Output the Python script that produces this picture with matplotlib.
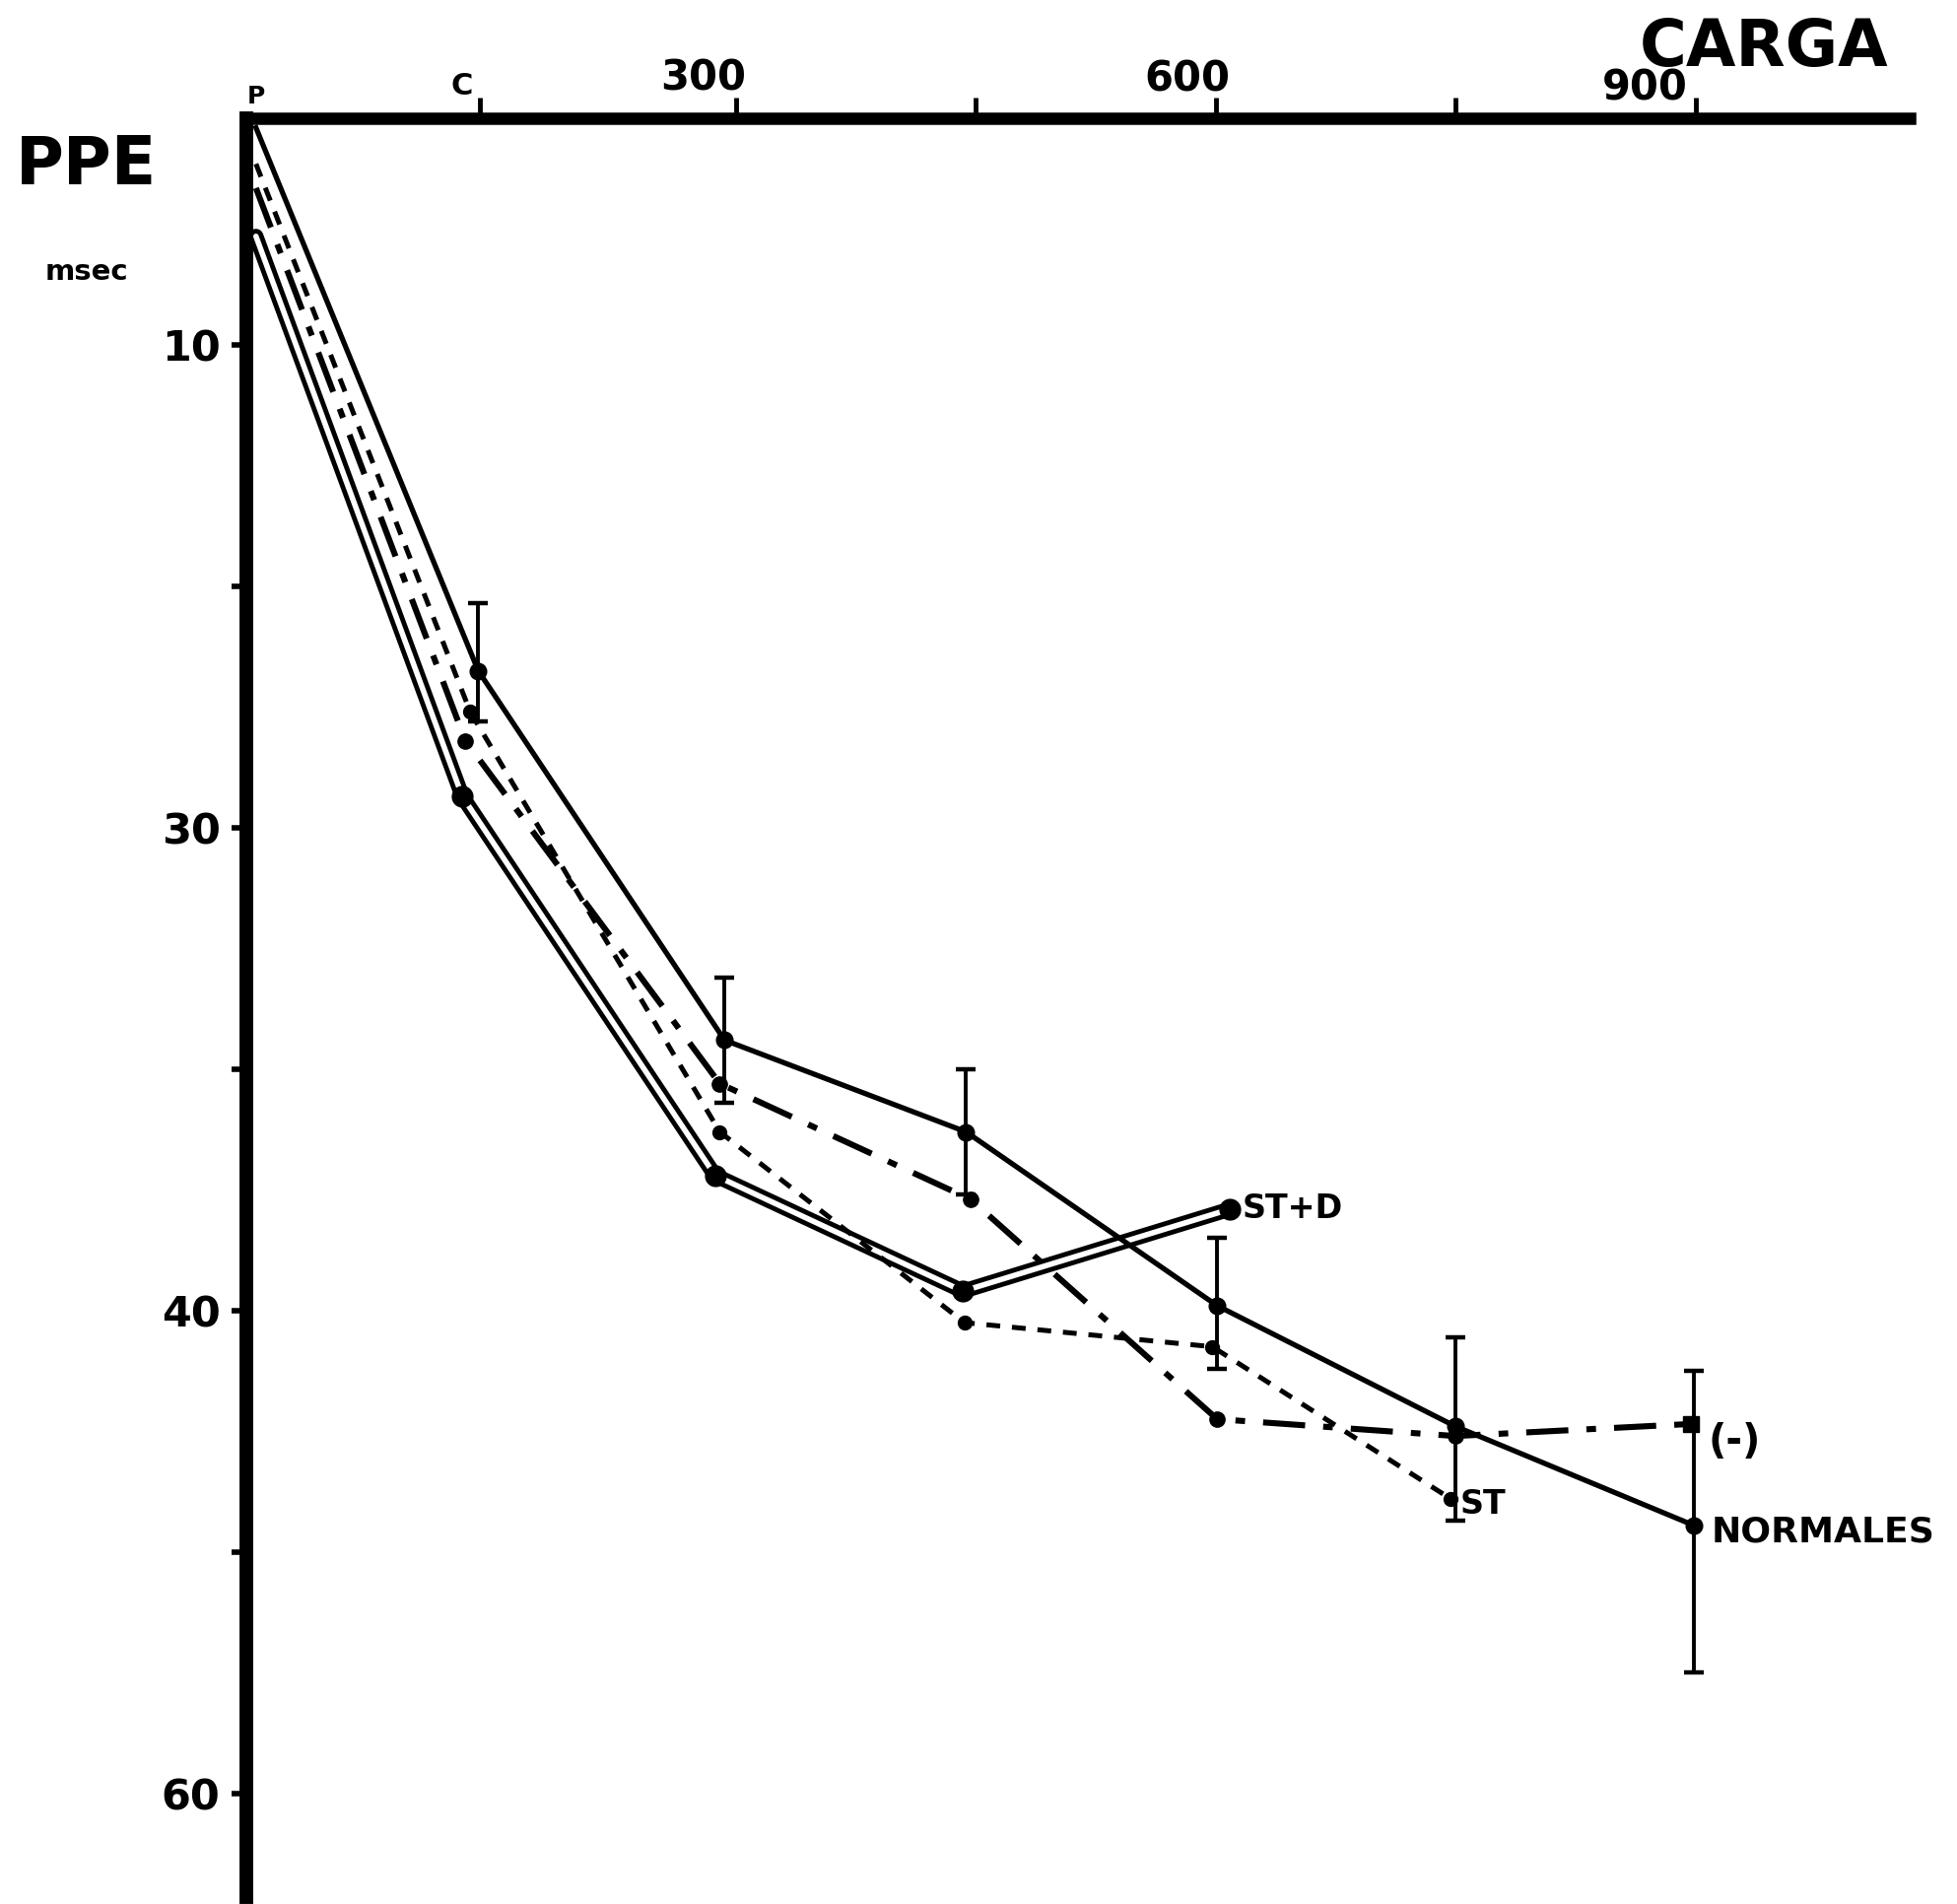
import numpy as np
import matplotlib
matplotlib.use("Agg")
import matplotlib.pyplot as plt

# ---- data: load (x) and PPE latency in msec (y) for each group ----
normales_x = [0, 139, 293, 444, 601, 750, 899]
normales_y = [1.0, 23.5, 34.4, 36.3, 39.9, 44.8, 48.9]
normales_err_lo = [0.0, 2.8, 1.3, 1.3, 1.4, 3.7, 6.4]
normales_err_hi = [0.0, 2.1, 1.3, 1.3, 2.5, 3.9, 6.1]

menos_x = [0, 131, 290, 447, 601, 750, 897]
menos_y = [3.5, 26.4, 35.3, 37.7, 44.5, 45.2, 44.7]

st_x = [0, 134, 290, 443, 598, 747]
st_y = [2.5, 25.2, 36.3, 40.5, 41.5, 47.8]

std_x = [0, 129, 287, 442, 609]
std_y = [5.5, 28.7, 37.2, 39.6, 37.9]

x_ticks = [140, 300, 450, 600, 750, 900]
x_tick_labels = ["C", "300", "", "600", "", "900"]
y_ticks = [10, 20, 30, 35, 40, 50, 60]
y_tick_labels = ["10", "", "30", "", "40", "", "60"]

# the PPE axis is graduated unevenly: equal steps for 10,20,30,35,40,50,60
scale_vals = [-100, 0, 10, 20, 30, 40, 60, 200]
scale_pos = [-10, 0, 1, 2, 3, 5, 7, 21]


def fwd(v):
    return np.interp(v, scale_vals, scale_pos)


def inv(p):
    return np.interp(p, scale_pos, scale_vals)


W, H = 1986, 1932
fig = plt.figure(figsize=(W / 100, H / 100), dpi=100)
fig.patch.set_facecolor("white")

ax = fig.add_axes([250 / W, 1 - 1925 / H, (1938 - 250) / W, (1925 - 120) / H])
ax.set_yscale("function", functions=(fwd, inv))
ax.set_xlim(-6, 1034)
ax.set_ylim(64.3, 0.61)

for side in ("right", "bottom"):
    ax.spines[side].set_visible(False)
ax.spines["left"].set_linewidth(10)
ax.spines["top"].set_linewidth(9)
for side in ("left", "top"):
    ax.spines[side].set_color("black")

# x axis on top, tick marks pointing up, labels placed by hand
ax.xaxis.tick_top()
ax.set_xticks(x_ticks)
ax.set_xticklabels([])
ax.tick_params(axis="x", direction="out", length=15, width=3.5, colors="black")

ax.set_yticks(y_ticks)
ax.set_yticklabels(y_tick_labels)
ax.yaxis.set_minor_locator(matplotlib.ticker.NullLocator())
ax.tick_params(axis="y", direction="out", length=11, width=4, pad=8,
               labelsize=31, colors="black")
for lab in ax.get_yticklabels():
    lab.set_fontweight("bold")

xt = ax.get_xaxis_transform()
tick_label_style = {
    "C": dict(size=22, dx=-13, dy=13),
    "300": dict(size=30, dx=-24, dy=14),
    "600": dict(size=30, dx=-21, dy=13),
    "900": dict(size=30, dx=-37, dy=7),
}
for xv, lbl in zip(x_ticks, x_tick_labels):
    if not lbl:
        continue
    s = tick_label_style[lbl]
    ax.annotate(lbl, xy=(xv, 1), xycoords=xt, xytext=(s["dx"], s["dy"]),
                textcoords="offset points", ha="center", va="bottom",
                fontsize=s["size"], fontweight="bold", annotation_clip=False)
ax.annotate("P", xy=(0, 1), xycoords=xt, xytext=(0, 7),
            textcoords="offset points", ha="center", va="bottom",
            fontsize=18, fontweight="bold", annotation_clip=False)

# ---- series ----
# ST+D: double line (black stroke with white core)
ax.plot(std_x, std_y, color="black", lw=11, solid_joinstyle="round",
        solid_capstyle="round", zorder=3)
ax.plot(std_x, std_y, color="white", lw=4, solid_joinstyle="round",
        solid_capstyle="round", zorder=3.1)
ax.plot(std_x[1:], std_y[1:], "o", color="black", ms=15, zorder=3.2)

# ST: short dashes
ax.plot(st_x, st_y, color="black", lw=3.6, dashes=(2.8, 2.4), zorder=4)
ax.plot(st_x[1:], st_y[1:], "o", color="black", ms=10, zorder=4.1)

# (-): dash-dot
ax.plot(menos_x, menos_y, color="black", lw=4.4, dashes=(7, 3, 1.6, 3), zorder=4)
ax.plot(menos_x[1:-1], menos_y[1:-1], "o", color="black", ms=11, zorder=4.1)
ax.plot(menos_x[-1:], menos_y[-1:], "s", color="black", ms=12, zorder=4.1)

# NORMALES: thin solid with error bars
ax.plot(normales_x, normales_y, color="black", lw=3.8, zorder=5)
ax.plot(normales_x[1:], normales_y[1:], "o", color="black", ms=12, zorder=5.1)
ax.errorbar(normales_x[1:], normales_y[1:],
            yerr=[normales_err_lo[1:], normales_err_hi[1:]],
            fmt="none", ecolor="black", elinewidth=2.8, capsize=7,
            capthick=3.2, zorder=5)

# ---- group labels ----
ax.annotate("ST+D", xy=(std_x[-1], std_y[-1]), xytext=(9, 0),
            textcoords="offset points", ha="left", va="center",
            fontsize=24, fontweight="bold")
ax.annotate("ST", xy=(st_x[-1], st_y[-1]), xytext=(7, -4),
            textcoords="offset points", ha="left", va="center",
            fontsize=24, fontweight="bold")
ax.annotate("NORMALES", xy=(normales_x[-1], normales_y[-1]), xytext=(13, -5),
            textcoords="offset points", ha="left", va="center",
            fontsize=26, fontweight="bold", annotation_clip=False)
ax.annotate("(-)", xy=(menos_x[-1], menos_y[-1]), xytext=(13, -13),
            textcoords="offset points", ha="left", va="center",
            fontsize=29, fontweight="bold")

# ---- axis titles ----
fig.text(88 / W, 1 - 168 / H, "PPE", ha="center", va="center",
         fontsize=48, fontweight="bold")
fig.text(88 / W, 1 - 276 / H, "msec", ha="center", va="center",
         fontsize=21, fontweight="bold")
fig.text(1790 / W, 1 - 49 / H, "CARGA", ha="center", va="center",
         fontsize=47, fontweight="bold")

fig.savefig("out.png", dpi=100, facecolor="white")
